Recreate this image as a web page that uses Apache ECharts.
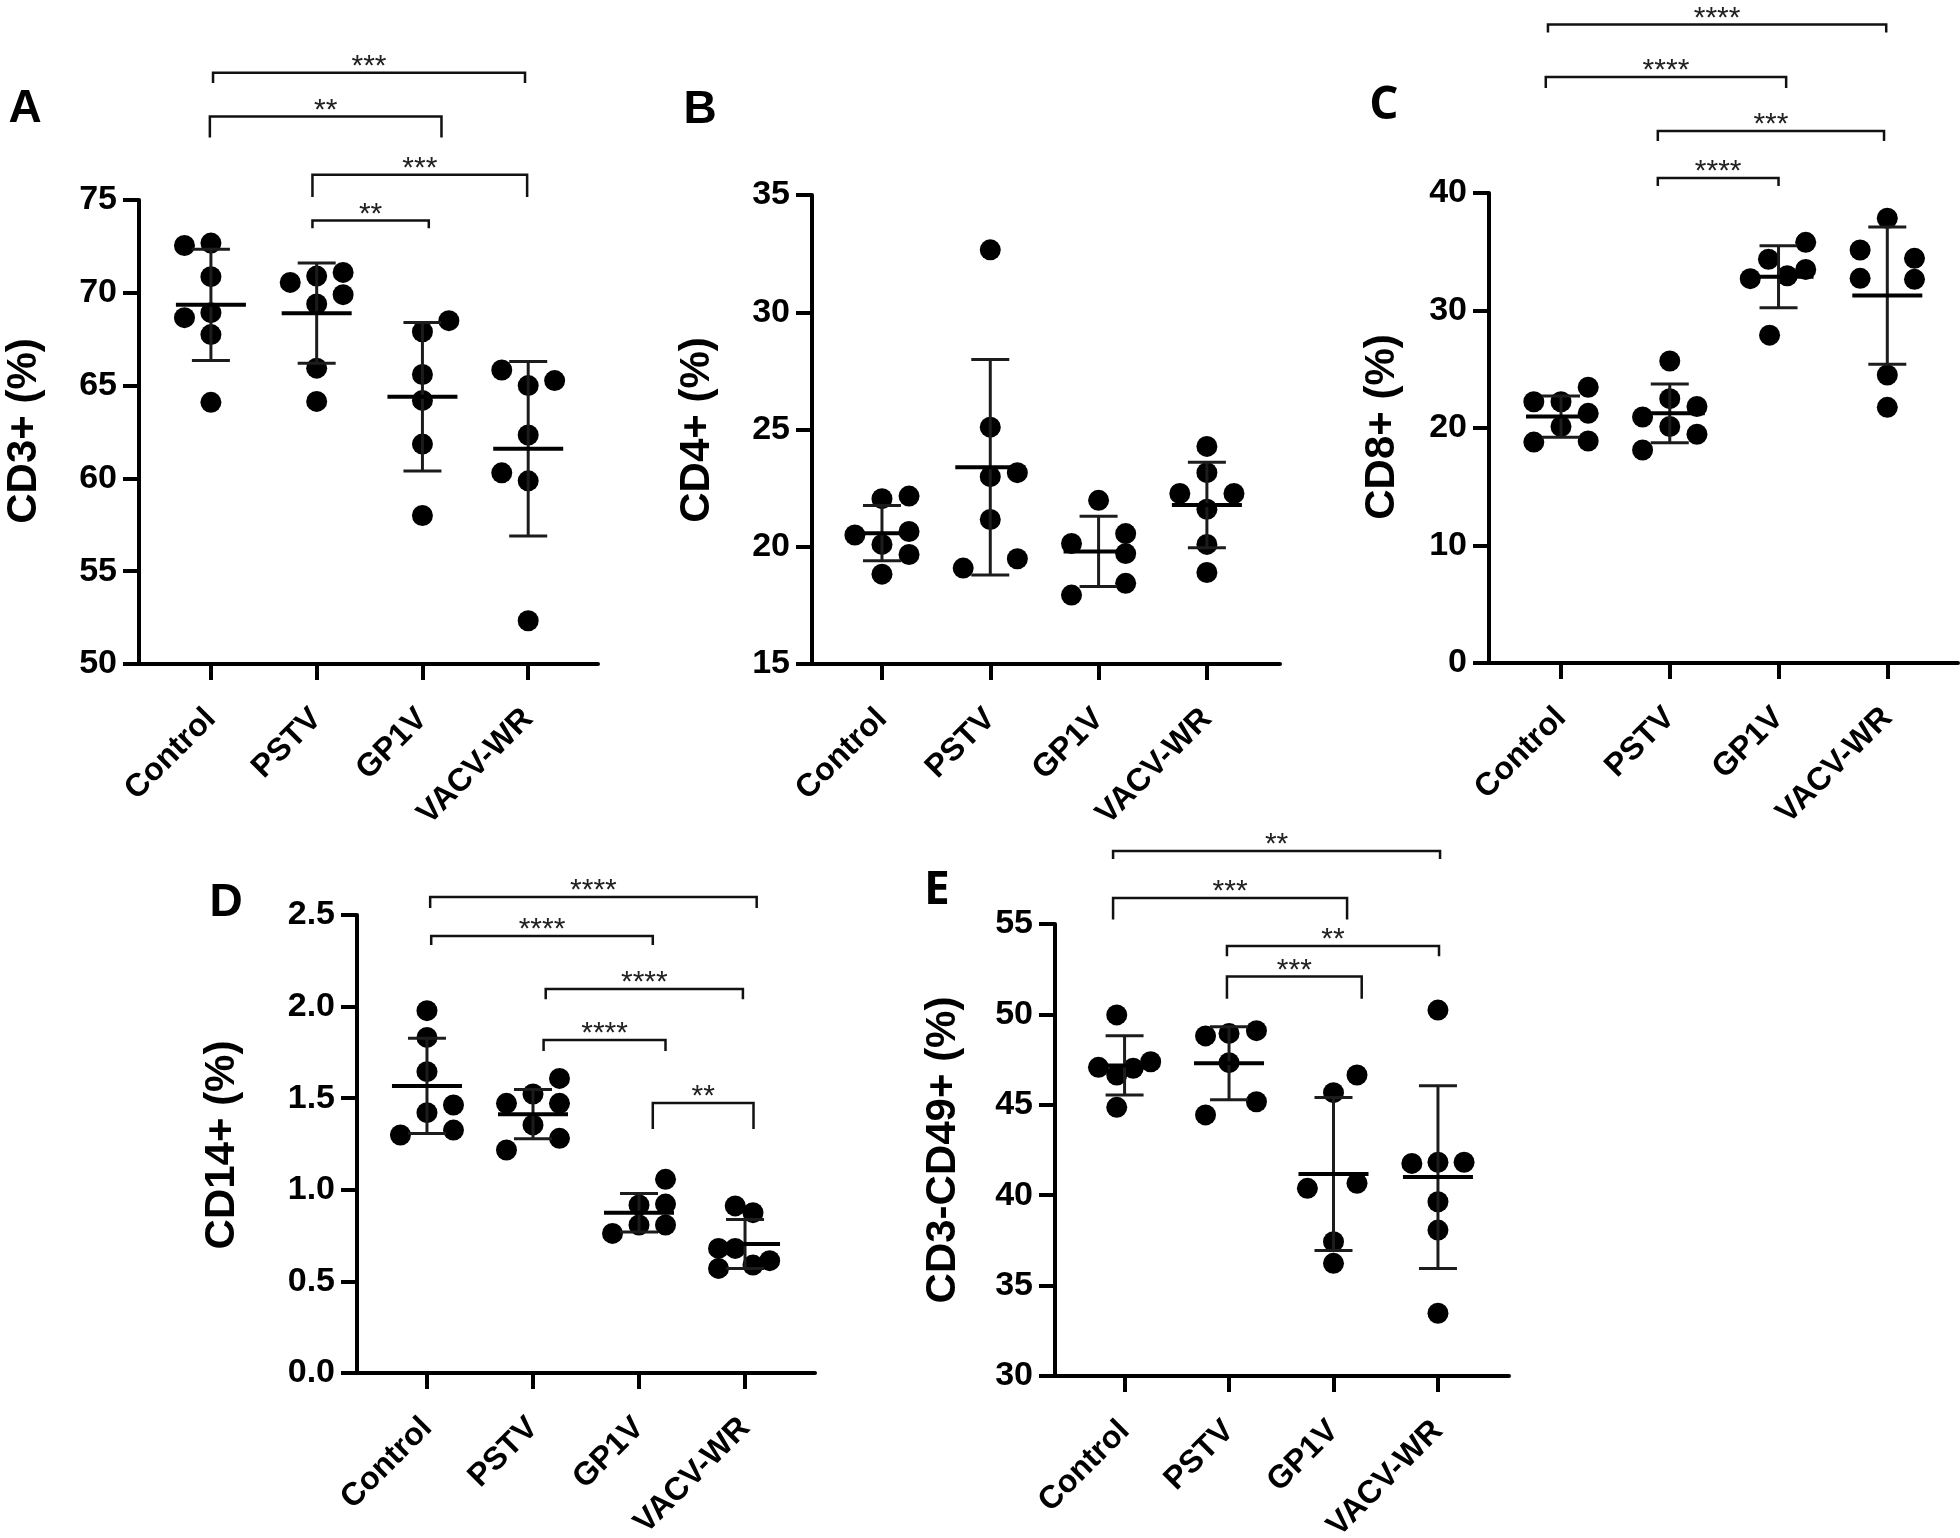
<!DOCTYPE html>
<html>
<head>
<meta charset="utf-8">
<script src="https://cdn.jsdelivr.net/npm/echarts@6/dist/echarts.min.js"></script>
<style>
html,body{margin:0;padding:0;background:#fff;}
#chart{width:1960px;height:1538px;}
</style>
</head>
<body>
<div id="chart"></div>
<script>
// ---------------- DATA ----------------
const categories = ['Control', 'PSTV', 'GP1V', 'VACV-WR'];

// Panel A: CD3+ (%)
const cd3Values = [
  [72.55, 72.68, 70.87, 68.66, 68.93, 67.75, 64.1],
  [70.56, 70.9, 71.1, 69.4, 69.9, 65.94, 64.15],
  [67.9, 68.5, 65.6, 64.2, 61.85, 58.0],
  [65.84, 65.0, 65.27, 62.34, 60.3, 59.87, 52.33]
];
const cd3Jitter = [
  [-1, 0, 0, -1, 0, 0, 0],
  [-1, 0, 1, 0, 1, 0, 0],
  [0, 1, 0, 0, 0, 0],
  [-1, 0, 1, 0, -1, 0, 0]
];
const cd3Mean = [69.35, 68.9, 64.4, 61.6];
const cd3SD = [3.0, 2.7, 4.0, 4.7];
const cd3Brackets = [[0.02, 2.97, 81.85, 81.3], [-0.01, 2.18, 79.5, 78.37], [0.96, 2.99, 76.36, 75.16], [0.96, 2.06, 73.9, 73.48]];
const cd3Stars = ['***', '**', '***', '**'];
const cd3Ticks = [50, 75, 5];

// Panel B: CD4+ (%)
const cd4Values = [
  [22.05, 22.16, 20.5, 20.65, 20.1, 19.67, 18.83],
  [32.66, 25.1, 23.16, 22.99, 21.16, 19.09, 19.49],
  [21.98, 20.14, 20.56, 19.71, 17.94, 18.44],
  [24.28, 23.16, 22.27, 22.27, 21.6, 20.1, 18.9]
];
const cd4Jitter = [
  [0, 1, -1, 1, 0, 1, 0],
  [0, 0, 1, 0, 0, -1, 1],
  [0, -1, 1, 1, -1, 1],
  [0, 0, -1, 1, 0, 0, 0]
];
const cd4Mean = [20.58, 23.39, 19.8, 21.78];
const cd4SD = [1.18, 4.6, 1.5, 1.82];
const cd4Brackets = [];
const cd4Stars = [];
const cd4Ticks = [15, 35, 5];

// Panel C: CD8+ (%)
const cd8Values = [
  [22.23, 22.23, 23.47, 21.25, 20.13, 18.8, 18.89],
  [25.7, 22.5, 20.94, 21.83, 20.13, 18.13, 19.47],
  [35.8, 34.36, 32.71, 32.96, 33.5, 27.9],
  [37.85, 35.15, 34.44, 32.74, 32.65, 24.51, 21.76]
];
const cd8Jitter = [
  [-1, 0, 1, 1, 0, -1, 1],
  [0, 0, -1, 1, 0, -1, 1],
  [1, -0.37, -1.04, 0.32, 1, -0.33],
  [0, -1, 1, -1, 1, 0, 0]
];
const cd8Mean = [20.97, 21.25, 32.87, 31.27];
const cd8SD = [1.76, 2.5, 2.64, 5.84];
const cd8Brackets = [[-0.12, 2.99, 54.33, 53.66], [-0.14, 2.07, 49.87, 48.94], [0.89, 2.97, 45.28, 44.43], [0.89, 2.0, 41.28, 40.6]];
const cd8Stars = ['****', '****', '***', '****'];
const cd8Ticks = [0, 40, 10];

// Panel D: CD14+ (%)
const cd14Values = [
  [1.978, 1.832, 1.645, 1.421, 1.463, 1.299, 1.326],
  [1.608, 1.472, 1.523, 1.472, 1.354, 1.217, 1.281],
  [1.057, 0.917, 0.922, 0.762, 0.808, 0.808],
  [0.912, 0.875, 0.68, 0.68, 0.571, 0.589, 0.613]
];
const cd14Jitter = [
  [0, 0, 0, 0, 1, -1, 1],
  [1, -1, 0, 1, 0, -1, 1],
  [1, 0, 1, -1, 0, 1],
  [-0.37, 0.3, -1, -0.37, -1, 0.3, 0.93]
];
const cd14Mean = [1.567, 1.413, 0.875, 0.704];
const cd14SD = [0.26, 0.134, 0.105, 0.134];
const cd14Brackets = [[0.03, 3.11, 2.598, 2.538], [0.04, 2.13, 2.385, 2.336], [1.12, 2.98, 2.096, 2.04], [1.1, 2.25, 1.818, 1.758], [2.13, 3.08, 1.474, 1.332]];
const cd14Stars = ['****', '****', '****', '****', '**'];
const cd14Ticks = [0, 2.5, 0.5];

// Panel E: CD3-CD49+ (%)
const cd49Values = [
  [49.97, 47.07, 46.65, 47.02, 47.38, 44.86],
  [48.81, 48.95, 49.1, 47.33, 44.44, 45.17],
  [46.65, 45.67, 40.38, 40.66, 37.43, 36.23],
  [50.24, 41.76, 41.82, 41.82, 39.64, 38.07, 33.47]
];
const cd49Jitter = [
  [-0.3, -1, -0.3, 0.33, 1, -0.3],
  [-0.9, 0, 1.05, 0, -0.9, 1.05],
  [0.9, 0, -1, 0.9, 0, 0],
  [0, -1, 0, 1, 0, 0, 0]
];
const cd49Mean = [47.18, 47.3, 41.17, 41.0];
const cd49SD = [1.64, 2.02, 4.23, 5.05];
const cd49Brackets = [[-0.11, 3.02, 59.04, 58.6], [-0.11, 2.13, 56.44, 55.25], [0.98, 3.01, 53.78, 53.21], [0.98, 2.27, 52.09, 50.87]];
const cd49Stars = ['**', '***', '**', '***'];
const cd49Ticks = [30, 55, 5];

// ---------------- LAYOUT / STYLE ----------------
const FONT = '"Liberation Sans", Arial, sans-serif';
const JIT = 0.25;      // jitter column width in category units
const CAP = 38;        // error-bar cap width (px)
const MEANW = 70;      // mean line width (px)

const panels = [
  {letter: 'A', title: 'CD3+ (%)', values: cd3Values, jitter: cd3Jitter, mean: cd3Mean, sd: cd3SD, br: cd3Brackets, stars: cd3Stars, ticks: cd3Ticks,
   grid: {left: 139, top: 200, width: 459, height: 464}, xr: [-0.68, 3.66], letterPos: [25, 109], titlePos: [24, 431], letterFont: FONT},
  {letter: 'B', title: 'CD4+ (%)', values: cd4Values, jitter: cd4Jitter, mean: cd4Mean, sd: cd4SD, br: cd4Brackets, stars: cd4Stars, ticks: cd4Ticks,
   grid: {left: 812, top: 195, width: 468, height: 469}, xr: [-0.646, 3.675], letterPos: [700, 110], titlePos: [697, 430], letterFont: FONT},
  {letter: 'C', title: 'CD8+ (%)', values: cd8Values, jitter: cd8Jitter, mean: cd8Mean, sd: cd8SD, br: cd8Brackets, stars: cd8Stars, ticks: cd8Ticks,
   grid: {left: 1489, top: 193, width: 469, height: 470}, xr: [-0.662, 3.65], letterPos: [1384, 106], titlePos: [1382, 427], letterFont: '"Open Sans", sans-serif'},
  {letter: 'D', title: 'CD14+ (%)', values: cd14Values, jitter: cd14Jitter, mean: cd14Mean, sd: cd14SD, br: cd14Brackets, stars: cd14Stars, ticks: cd14Ticks,
   grid: {left: 357, top: 915, width: 458, height: 458}, xr: [-0.66, 3.66], letterPos: [226, 903], titlePos: [222, 1145], letterFont: FONT},
  {letter: 'E', title: 'CD3-CD49+ (%)', values: cd49Values, jitter: cd49Jitter, mean: cd49Mean, sd: cd49SD, br: cd49Brackets, stars: cd49Stars, ticks: cd49Ticks,
   grid: {left: 1055, top: 924, width: 454, height: 452}, xr: [-0.666, 3.68], letterPos: [937, 891], titlePos: [943, 1150], letterFont: '"Open Sans", sans-serif'}
];

const grids = [], xAxes = [], yAxes = [], series = [], graphics = [];

panels.forEach((p, i) => {
  grids.push(Object.assign({containLabel: false, outerBoundsMode: 'none'}, p.grid));
  xAxes.push({
    type: 'value', gridIndex: i, min: p.xr[0], max: p.xr[1],
    axisLine: {show: true, onZero: false, lineStyle: {color: '#000', width: 4}},
    axisTick: {show: true, customValues: [0, 1, 2, 3], length: 16, lineStyle: {color: '#000', width: 4}},
    axisLabel: {show: true, customValues: [0, 1, 2, 3], rotate: 45, margin: 50,
      formatter: v => categories[Math.round(v)] || '',
      fontSize: 32, fontWeight: 'bold', fontFamily: FONT, color: '#000'},
    splitLine: {show: false}
  });
  const dec = p.ticks[2] < 1 ? 1 : 0;
  yAxes.push({
    type: 'value', gridIndex: i, min: p.ticks[0], max: p.ticks[1], interval: p.ticks[2],
    axisLine: {show: true, onZero: false, lineStyle: {color: '#000', width: 4}},
    axisTick: {show: true, length: 16, lineStyle: {color: '#000', width: 4}},
    axisLabel: {margin: 22, fontSize: 34, fontWeight: 'bold', fontFamily: FONT, color: '#000',
      formatter: v => v.toFixed(dec)},
    splitLine: {show: false}
  });

  // scatter dots
  const pts = [];
  p.values.forEach((arr, c) => arr.forEach((v, k) => pts.push([c + p.jitter[c][k] * JIT, v])));
  series.push({type: 'scatter', xAxisIndex: i, yAxisIndex: i, data: pts, symbol: 'circle', symbolSize: 21,
    itemStyle: {color: '#000', opacity: 1}, silent: true, z: 2});

  // mean +/- SD
  series.push({
    type: 'custom', xAxisIndex: i, yAxisIndex: i, silent: true, z: 3, clip: false,
    data: p.mean.map((m, c) => [c, m, p.sd[c]]),
    encode: {x: 0, y: 1},
    renderItem: (params, api) => {
      const x = api.value(0), m = api.value(1), s = api.value(2);
      const c = api.coord([x, m]), t = api.coord([x, m + s]), b = api.coord([x, m - s]);
      const st = {stroke: '#1c1c1c', lineWidth: 3};
      return {type: 'group', children: [
        {type: 'line', shape: {x1: c[0], y1: t[1], x2: c[0], y2: b[1]}, style: st},
        {type: 'line', shape: {x1: c[0] - CAP / 2, y1: t[1], x2: c[0] + CAP / 2, y2: t[1]}, style: st},
        {type: 'line', shape: {x1: c[0] - CAP / 2, y1: b[1], x2: c[0] + CAP / 2, y2: b[1]}, style: st},
        {type: 'line', shape: {x1: c[0] - MEANW / 2, y1: c[1], x2: c[0] + MEANW / 2, y2: c[1]}, style: {stroke: '#000', lineWidth: 4}}
      ]};
    }
  });

  // significance brackets
  if (p.br.length) {
    const stars = p.stars;
    series.push({
      type: 'custom', xAxisIndex: i, yAxisIndex: i, silent: true, z: 4, clip: false,
      data: p.br,
      encode: {x: [0, 1], y: [2, 3]},
      renderItem: (params, api) => {
        const x1 = api.value(0), x2 = api.value(1), yl = api.value(2), yt = api.value(3);
        const a = api.coord([x1, yl]), b = api.coord([x2, yl]);
        const at = api.coord([x1, yt]), bt = api.coord([x2, yt]);
        return {type: 'group', children: [
          {type: 'polyline', shape: {points: [[at[0], at[1]], [a[0], a[1]], [b[0], b[1]], [bt[0], bt[1]]]},
           style: {stroke: '#111', lineWidth: 2.5, fill: null}},
          {type: 'text', x: (a[0] + b[0]) / 2, y: a[1] - 6,
           style: {text: stars[params.dataIndex], fill: '#222', font: '30px ' + FONT, align: 'center', verticalAlign: 'middle'}}
        ]};
      }
    });
  }

  graphics.push({type: 'text', x: p.letterPos[0], y: p.letterPos[1],
    style: {text: p.letter, fill: '#000', font: 'bold 46px ' + p.letterFont, align: 'center', verticalAlign: 'middle'}});
  graphics.push({type: 'text', x: p.titlePos[0], y: p.titlePos[1], rotation: Math.PI / 2,
    style: {text: p.title, fill: '#000', font: 'bold 42px ' + FONT, align: 'center', verticalAlign: 'middle'}});
});

const chart = echarts.init(document.getElementById('chart'), null, {renderer: 'canvas'});
chart.setOption({
  backgroundColor: '#fff',
  animation: false,
  grid: grids,
  xAxis: xAxes,
  yAxis: yAxes,
  series: series,
  graphic: graphics
});
</script>
</body>
</html>
